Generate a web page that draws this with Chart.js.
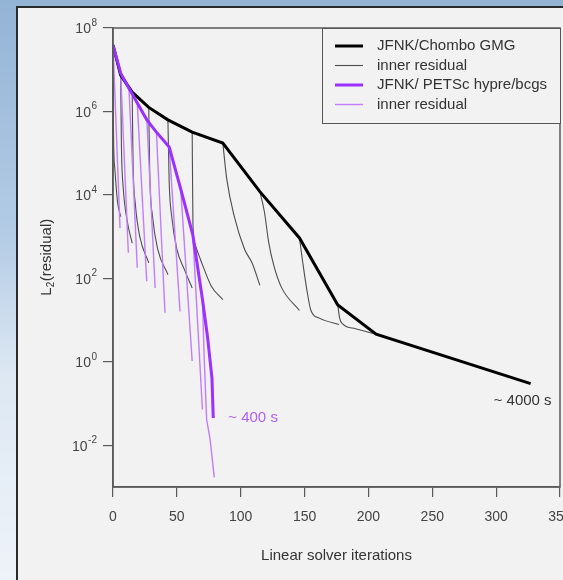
<!DOCTYPE html>
<html>
<head>
<meta charset="utf-8">
<script src="https://cdn.jsdelivr.net/npm/chart.js@4.4.0/dist/chart.umd.min.js"></script>
<style>
  html, body { margin: 0; padding: 0; }
  body {
    width: 563px; height: 580px; overflow: hidden; position: relative;
    background: linear-gradient(180deg, #94b4d6 0%, #b3cbe5 40%, #dde8f3 65%, #eef3f9 100%);
  }
  #frame {
    position: absolute; left: 16px; top: 6px; width: 549px; height: 576px;
    border-left: 2px solid #2b2b2b; border-top: 2px solid #2b2b2b; background: #f2f2f2;
  }
  #residualChart { position: absolute; left: 0; top: 0; }
</style>
</head>
<body>
<div id="frame"><canvas id="residualChart" width="545" height="572"></canvas></div>
<script>
var FONT = '"Liberation Sans", Arial, sans-serif';

// outer (Newton) residual, JFNK / Chombo GMG
var chomboIter = [0, 6, 15, 28, 43, 62, 86, 115, 146, 176, 206, 327];
var chomboRes = [3.9e7, 7.4e6, 2.9e6, 1.25e6, 6.3e5, 3.2e5, 1.75e5, 1.2e4, 930, 23, 4.6, 0.3];

// inner linear residual of each Newton step (Chombo)
var chomboInnerIter = [
    [0, 0.4, 1.5, 3.5, 6],
    [6, 6.6, 8, 11, 15],
    [15, 15.7, 17.5, 21, 28],
    [28, 28.8, 31, 35, 43],
    [43, 44, 46, 50, 56, 62],
    [62, 62.6, 64, 69.5, 77, 86],
    [86, 89, 95, 103, 109, 115],
    [115, 118.5, 122, 126, 132, 146],
    [146, 148.5, 151.5, 155, 162, 177],
    [176, 177.5, 180, 190, 206]
];
var chomboInnerRes = [
    [3.9e7, 3e5, 4e4, 7e3, 3e3],
    [7.4e6, 1.5e5, 1.5e4, 2.5e3, 700],
    [2.9e6, 6e4, 6e3, 1e3, 235],
    [1.25e6, 3e4, 3e3, 500, 123],
    [6.3e5, 2e4, 3e3, 500, 160, 59],
    [3.2e5, 2e3, 700, 235, 65, 31],
    [1.75e5, 2.5e4, 3e3, 500, 230, 68],
    [1.2e4, 4e3, 700, 200, 60, 17],
    [930, 250, 60, 17, 11, 7.8],
    [23, 11, 8, 6.2, 4.6]
];

// outer residual, JFNK / PETSc hypre/bcgs
var petscIter = [0, 6, 12.5, 19, 26.5, 34, 44, 53, 62.5, 70, 74, 77.5, 78.5];
var petscRes = [3.9e7, 8.3e6, 3.6e6, 1.6e6, 6.3e5, 3.2e5, 1.4e5, 1.4e4, 1.1e3, 32, 4, 0.4, 0.045];

var petscInnerIter = [
    [0, 5.5], [6, 12], [12.5, 19], [19, 26.4], [26.5, 33], [34, 40.7],
    [44, 52.5], [53, 62], [62.5, 70], [70, 71.5, 73.3, 76, 79.3]
];
var petscInnerRes = [
    [3.9e7, 1.6e3], [8.3e6, 410], [3.6e6, 180], [1.6e6, 85], [6.3e5, 59], [3.2e5, 15],
    [1.4e5, 16], [1.4e4, 1.05], [1.1e3, 0.072], [32, 1, 0.042, 0.014, 0.0017]
];

var xMin = 0, xMax = 350, xStep = 50;
var yMin = 1e-3, yMax = 1e8;
var yTickValues = [1e-2, 1, 1e2, 1e4, 1e6, 1e8];
var yTickExp = ['-2', '0', '2', '4', '6', '8'];
var legendLabels = ['JFNK/Chombo GMG', 'inner residual', 'JFNK/ PETSc hypre/bcgs', 'inner residual'];
var chomboTime = '~ 4000 s';
var petscTime = '~ 400 s';

function pts(xs, ys) {
    return xs.map(function (x, i) { return { x: x, y: ys[i] }; });
}

var datasets = [];
datasets.push({
    label: legendLabels[2], legendRow: 2, order: 0,
    data: pts(petscIter, petscRes),
    borderColor: '#9b30ff', borderWidth: 3
});
datasets.push({
    label: legendLabels[0], legendRow: 0, order: 1,
    data: pts(chomboIter, chomboRes),
    borderColor: '#000000', borderWidth: 3
});
for (var i = 0; i < petscInnerIter.length; i++) {
    datasets.push({
        label: legendLabels[3], legendRow: i === 0 ? 3 : -1, order: 2,
        data: pts(petscInnerIter[i], petscInnerRes[i]),
        borderColor: '#c27cff', borderWidth: 1.4
    });
}
for (var j = 0; j < chomboInnerIter.length; j++) {
    datasets.push({
        label: legendLabels[1], legendRow: j === 0 ? 1 : -1, order: 3,
        data: pts(chomboInnerIter[j], chomboInnerRes[j]),
        borderColor: '#4d4d4d', borderWidth: 1.1,
        cubicInterpolationMode: 'monotone'
    });
}

var decorations = {
    id: 'decorations',
    afterDraw: function (chart) {
        var ctx = chart.ctx, area = chart.chartArea;
        var xs = chart.scales.x, ys = chart.scales.y;
        ctx.save();

        ctx.strokeStyle = '#5a5a5a';
        ctx.lineWidth = 1.5;
        ctx.strokeRect(area.left, area.top, area.right - area.left, area.bottom - area.top);

        // y tick labels: 10 with a raised exponent
        ctx.fillStyle = '#444';
        ctx.textBaseline = 'middle';
        ctx.textAlign = 'right';
        yTickValues.forEach(function (v, k) {
            var py = ys.getPixelForValue(v);
            ctx.font = '10px ' + FONT;
            var ew = ctx.measureText(yTickExp[k]).width;
            ctx.fillText(yTickExp[k], 79, py - 5);
            ctx.font = '14px ' + FONT;
            ctx.fillText('10', 79 - ew - 0.5, py + 1.5);
        });

        // y title with subscript
        ctx.save();
        ctx.translate(29, (area.top + area.bottom) / 2);
        ctx.rotate(-Math.PI / 2);
        ctx.fillStyle = '#333';
        ctx.textAlign = 'left';
        ctx.font = '15px ' + FONT;
        var w1 = ctx.measureText('L').width, w3 = ctx.measureText('(residual)').width;
        ctx.font = '10px ' + FONT;
        var w2 = ctx.measureText('2').width;
        var x0 = -(w1 + w2 + w3) / 2;
        ctx.font = '15px ' + FONT;
        ctx.fillText('L', x0, 0);
        ctx.font = '10px ' + FONT;
        ctx.fillText('2', x0 + w1, 4);
        ctx.font = '15px ' + FONT;
        ctx.fillText('(residual)', x0 + w1 + w2 + 0.5, 0);
        ctx.restore();

        // legend
        var lw = 238, lh = 95;
        var lx = area.right - lw, ly = area.top;
        ctx.fillStyle = '#f2f2f2';
        ctx.fillRect(lx, ly, lw, lh);
        ctx.strokeStyle = '#555';
        ctx.lineWidth = 1;
        ctx.strokeRect(lx + 0.5, ly + 0.5, lw, lh);
        legendLabels.forEach(function (label, k) {
            var ds = chart.data.datasets.filter(function (d) { return d.legendRow === k; })[0];
            var ry = ly + 18 + k * 19.5;
            ctx.strokeStyle = ds.borderColor;
            ctx.lineWidth = ds.borderWidth;
            ctx.beginPath();
            ctx.moveTo(lx + 13, ry);
            ctx.lineTo(lx + 41, ry);
            ctx.stroke();
            ctx.fillStyle = '#333';
            ctx.font = '15px ' + FONT;
            ctx.textAlign = 'left';
            ctx.textBaseline = 'middle';
            ctx.fillText(label, lx + 55, ry);
        });

        // run times
        var n = chomboIter.length - 1;
        var ex = xs.getPixelForValue(chomboIter[n]), ey = ys.getPixelForValue(chomboRes[n]);
        ctx.font = '15px ' + FONT;
        ctx.fillStyle = '#333';
        ctx.textAlign = 'center';
        ctx.fillText(chomboTime, ex - 8, ey + 17);
        var m = petscIter.length - 1;
        var px = xs.getPixelForValue(petscIter[m]), py = ys.getPixelForValue(petscRes[m]);
        ctx.fillStyle = '#b060f5';
        ctx.textAlign = 'left';
        ctx.fillText(petscTime, px + 15, py);

        ctx.restore();
    }
};

var ctx1 = document.getElementById('residualChart').getContext('2d');
var residualChart = new Chart(ctx1, {
    type: 'line',
    data: { datasets: datasets },
    options: {
        responsive: false,
        animation: false,
        layout: { padding: { top: 20, right: 3, left: 0, bottom: 0 }, autoPadding: false },
        elements: { point: { radius: 0 }, line: { fill: false, tension: 0 } },
        plugins: { legend: { display: false }, tooltip: { enabled: false } },
        scales: {
            x: {
                type: 'linear', min: xMin, max: xMax,
                ticks: { stepSize: xStep, color: '#444', font: { size: 14, family: FONT }, padding: 12, maxRotation: 0, autoSkip: false },
                grid: { drawOnChartArea: false, tickLength: 10, color: '#5a5a5a', lineWidth: 1.2 },
                border: { display: true, color: '#5a5a5a', width: 1.5 },
                title: { display: true, text: 'Linear solver iterations', color: '#333', font: { size: 15, family: FONT }, padding: { top: 0, bottom: 15 } },
                afterFit: function (s) {
                    s.height = 93;
                    s.paddingLeft = 0;
                    s.paddingRight = 0;
                }
            },
            y: {
                type: 'logarithmic', min: yMin, max: yMax,
                afterBuildTicks: function (s) {
                    s.ticks = yTickValues.map(function (v) { return { value: v }; });
                },
                ticks: { display: false },
                grid: { drawOnChartArea: false, tickLength: 10, color: '#5a5a5a', lineWidth: 1.2 },
                border: { display: true, color: '#5a5a5a', width: 1.5 },
                afterFit: function (s) {
                    s.width = 95;
                    s.paddingTop = 0;
                    s.paddingBottom = 0;
                }
            }
        }
    },
    plugins: [decorations]
});
</script>
</body>
</html>
